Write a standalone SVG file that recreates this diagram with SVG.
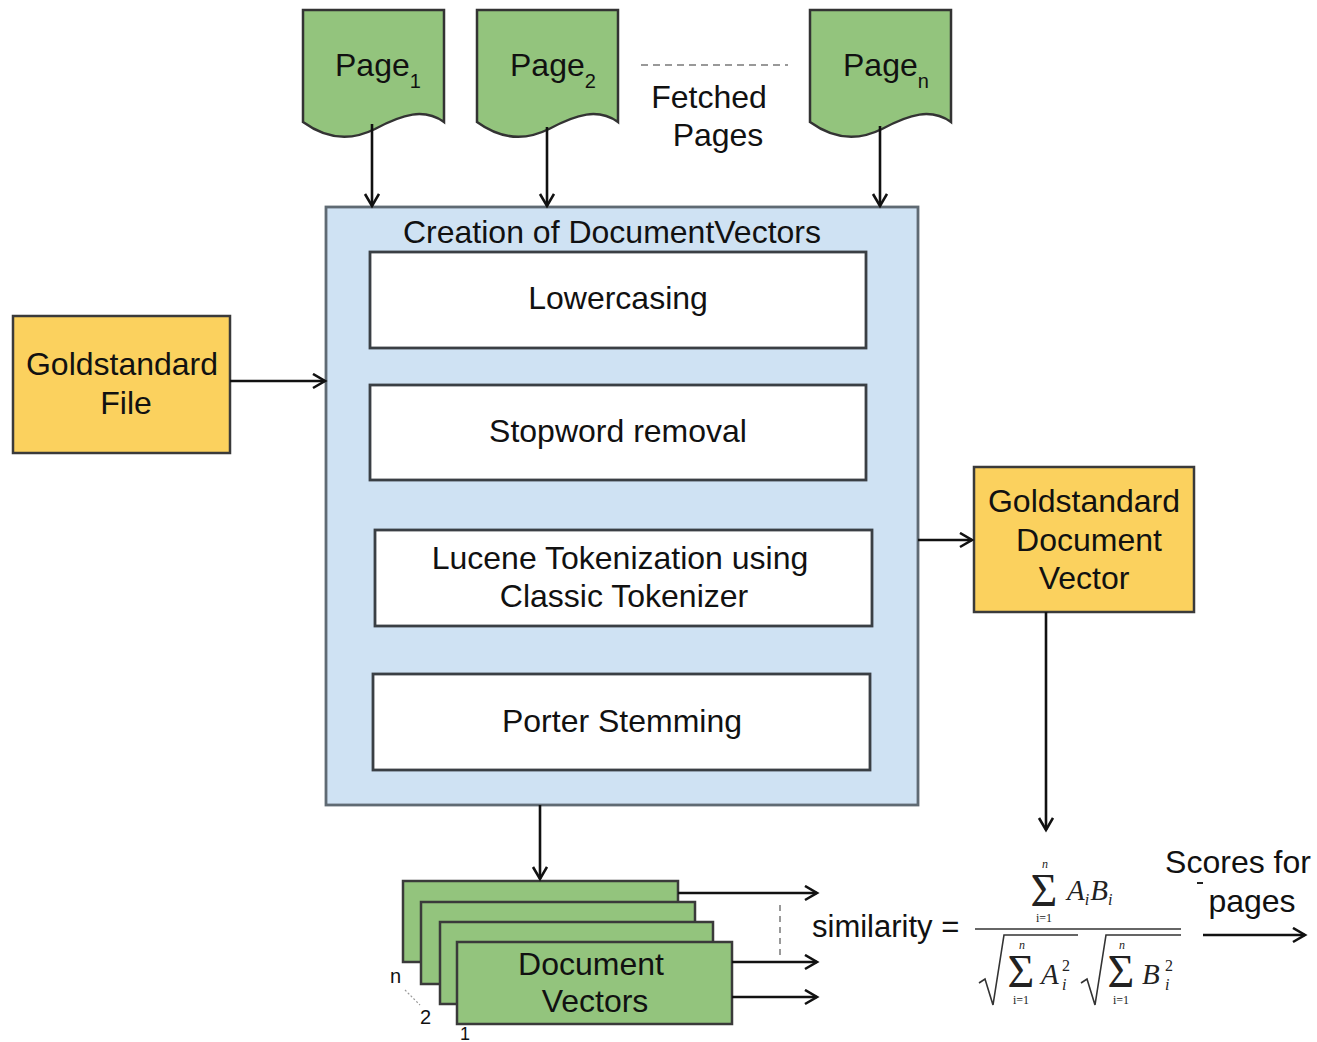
<svg xmlns="http://www.w3.org/2000/svg" width="1317" height="1042" viewBox="0 0 1317 1042">
  <defs>
    <marker id="arrow" markerUnits="userSpaceOnUse" markerWidth="16" markerHeight="18" refX="13" refY="8" orient="auto">
      <path d="M1,1 L13,8 L1,15" fill="none" stroke="#111" stroke-width="2.6" stroke-linejoin="miter"/>
    </marker>
    <path id="docshape" d="M0,0 H141 V112 C121,98 100,104 72,119 C46,132 22,128 0,112 Z"/>
  </defs>
  <style>
    text { font-family: "Liberation Sans", Arial, sans-serif; fill: #111; }
    .lbl { font-size: 32px; text-anchor: middle; }
    .sub { font-size: 20px; }
    .page { fill: #93c47d; stroke: #333; stroke-width: 2.5; }
    .gold { fill: #fbd15e; stroke: #3a3a3a; stroke-width: 2.5; }
    .step { fill: #ffffff; stroke: #3a3f44; stroke-width: 2.8; }
    .vec { fill: #93c47d; stroke: #3a3a3a; stroke-width: 2.5; }
    .edge { fill: none; stroke: #111; stroke-width: 2.6; marker-end: url(#arrow); }
    .math text { font-family: "Liberation Serif", "Times New Roman", serif; fill: #222; }
    .math .mi { font-style: italic; font-size: 29px; }
    .math .lim { font-size: 12px; text-anchor: middle; }
    .math .sum { font-size: 46px; text-anchor: middle; }
    .math .sm { font-size: 16px; }
  </style>

  <!-- fetched pages -->
  <g id="page1">
    <use href="#docshape" x="303" y="10" class="page"/>
    <text x="335" y="76" style="font-size:32px">Page<tspan class="sub" dy="12">1</tspan></text>
  </g>
  <g id="page2">
    <use href="#docshape" x="477" y="10" class="page"/>
    <text x="510" y="76" style="font-size:32px">Page<tspan class="sub" dy="12">2</tspan></text>
  </g>
  <g id="pagen">
    <use href="#docshape" x="810" y="10" class="page"/>
    <text x="843" y="76" style="font-size:32px">Page<tspan class="sub" dy="12">n</tspan></text>
  </g>
  <g id="fetched-label">
    <line x1="641" y1="65" x2="788" y2="65" stroke="#999" stroke-width="2" stroke-dasharray="7,5"/>
    <text class="lbl" x="709" y="108">Fetched</text>
    <text class="lbl" x="718" y="146">Pages</text>
  </g>

  <!-- preprocessing container -->
  <g id="creation">
    <rect x="326" y="207" width="592" height="598" fill="#cfe2f3" stroke="#5f6a73" stroke-width="2.8"/>
    <text class="lbl" x="612" y="243">Creation of DocumentVectors</text>
  </g>
  <g id="lowercasing">
    <rect class="step" x="370" y="252" width="496" height="96"/>
    <text class="lbl" x="618" y="309">Lowercasing</text>
  </g>
  <g id="stopword">
    <rect class="step" x="370" y="385" width="496" height="95"/>
    <text class="lbl" x="618" y="442">Stopword removal</text>
  </g>
  <g id="tokenization">
    <rect class="step" x="375" y="530" width="497" height="96"/>
    <text class="lbl" x="620" y="569">Lucene Tokenization using</text>
    <text class="lbl" x="624" y="607">Classic Tokenizer</text>
  </g>
  <g id="stemming">
    <rect class="step" x="373" y="674" width="497" height="96"/>
    <text class="lbl" x="622" y="732">Porter Stemming</text>
  </g>

  <!-- gold standard inputs and outputs -->
  <g id="gold-file">
    <rect class="gold" x="13" y="316" width="217" height="137"/>
    <text class="lbl" x="122" y="375">Goldstandard</text>
    <text class="lbl" x="126" y="414">File</text>
  </g>
  <g id="gold-vector">
    <rect class="gold" x="974" y="467" width="220" height="145"/>
    <text class="lbl" x="1084" y="512">Goldstandard</text>
    <text class="lbl" x="1089" y="551">Document</text>
    <text class="lbl" x="1084" y="589">Vector</text>
  </g>

  <!-- stack of document vectors -->
  <g id="doc-vectors">
    <rect class="vec" x="403" y="881" width="275" height="81"/>
    <rect class="vec" x="421" y="902" width="274" height="82"/>
    <rect class="vec" x="440" y="922" width="273" height="82"/>
    <rect class="vec" x="457" y="942" width="275" height="82"/>
    <text class="lbl" x="591" y="975">Document</text>
    <text class="lbl" x="595" y="1012">Vectors</text>
    <text x="390" y="983" style="font-size:20px">n</text>
    <line x1="405" y1="990" x2="420" y2="1005" stroke="#999" stroke-width="1.2" stroke-dasharray="2,2"/>
    <text x="420" y="1024" style="font-size:20px">2</text>
    <text x="460" y="1040" style="font-size:18px">1</text>
  </g>

  <!-- cosine similarity formula -->
  <g id="similarity">
    <text x="812" y="937" style="font-size:31px">similarity =</text>
    <line x1="975" y1="929" x2="1181" y2="929" stroke="#333" stroke-width="1.6"/>
    <g class="math">
      <text class="lim mi" x="1045" y="868" style="font-size:12px">n</text>
      <text class="sum" x="1044" y="906">Σ</text>
      <text class="lim" x="1044" y="922">i=1</text>
      <text class="mi" x="1067" y="900">A<tspan dy="5" class="sm">i</tspan><tspan dy="-5" dx="1">B</tspan><tspan dy="5" class="sm">i</tspan></text>

      <path d="M979,983 L985,979 L993,1005 L1004,935 L1078,935" fill="none" stroke="#333" stroke-width="1.6"/>
      <text class="lim mi" x="1022" y="949" style="font-size:12px">n</text>
      <text class="sum" x="1021" y="987">Σ</text>
      <text class="lim" x="1021" y="1004">i=1</text>
      <text class="mi" x="1041" y="984">A</text>
      <text class="sm" x="1062" y="971">2</text>
      <text class="mi sm" x="1062" y="990">i</text>

      <path d="M1081,983 L1087,979 L1095,1005 L1106,935 L1181,935" fill="none" stroke="#333" stroke-width="1.6"/>
      <text class="lim mi" x="1122" y="949" style="font-size:12px">n</text>
      <text class="sum" x="1121" y="987">Σ</text>
      <text class="lim" x="1121" y="1004">i=1</text>
      <text class="mi" x="1142" y="984">B</text>
      <text class="sm" x="1165" y="971">2</text>
      <text class="mi sm" x="1165" y="990">i</text>
    </g>
  </g>
  <g id="scores">
    <text class="lbl" x="1238" y="873">Scores for</text>
    <line x1="1197" y1="883" x2="1203" y2="883" stroke="#222" stroke-width="2"/>
    <text class="lbl" x="1252" y="912">pages</text>
  </g>

  <!-- connectors -->
  <g id="connectors">
    <line class="edge" x1="372" y1="124" x2="372" y2="206"/>
    <line class="edge" x1="547" y1="127" x2="547" y2="206"/>
    <line class="edge" x1="880" y1="126" x2="880" y2="206"/>
    <line class="edge" x1="230" y1="381" x2="325" y2="381"/>
    <line class="edge" x1="918" y1="540" x2="972" y2="540"/>
    <line class="edge" x1="1046" y1="612" x2="1046" y2="830"/>
    <line class="edge" x1="540" y1="805" x2="540" y2="879"/>
    <line class="edge" x1="678" y1="893" x2="817" y2="893"/>
    <line class="edge" x1="732" y1="962" x2="817" y2="962"/>
    <line class="edge" x1="732" y1="997" x2="817" y2="997"/>
    <line x1="780" y1="905" x2="780" y2="957" stroke="#999" stroke-width="2" stroke-dasharray="6,5"/>
    <line class="edge" x1="1203" y1="935" x2="1305" y2="935"/>
  </g>
</svg>
